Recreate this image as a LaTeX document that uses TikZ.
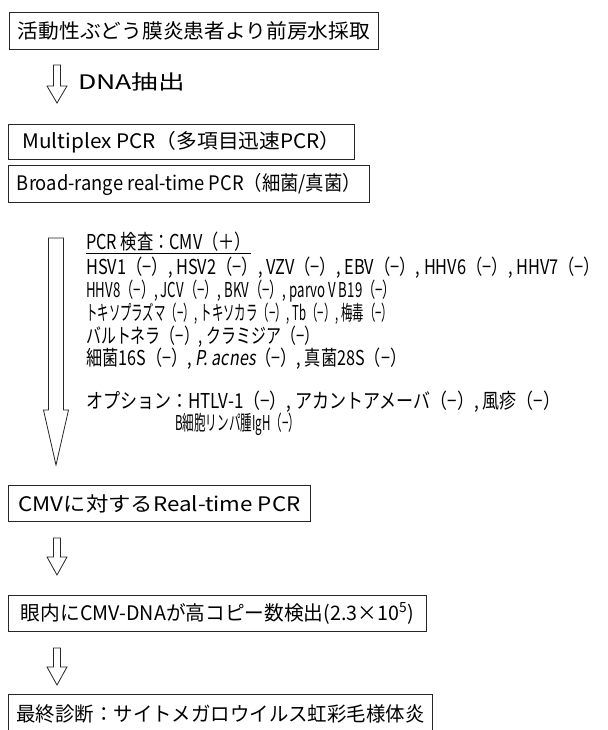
\documentclass[tikz,border=0pt]{standalone}
\usepackage{graphicx}
\usepackage{fontspec}
\setmainfont{Noto Sans CJK JP}
\newfontfamily\jpit{Noto Sans CJK JP}[FakeSlant=0.2]
\newcommand\fitw[2]{\resizebox{#1}{\height}{#2}}
\newcommand\hollowarrow[6]{%
  \draw[harrow] ({#1-#5},#2) -- ({#1+#5},#2) -- ({#1+#5},#3) -- ({#1+#6},#3)
    -- (#1,#4) -- ({#1-#6},#3) -- ({#1-#5},#3) -- cycle;}
\begin{document}
\begin{tikzpicture}[x=1pt,y=-1pt,
  box/.style={draw=black!85, line width=0.9pt, anchor=north west, inner sep=0pt,
    minimum height=37pt, font=\fontsize{20}{24}\selectfont},
  harrow/.style={draw=black!85, line width=0.8pt, fill=white, line join=miter},
  lst/.style={anchor=west, inner sep=0pt, font=\fontsize{20.5}{22}\selectfont},
  lbl/.style={anchor=west, inner sep=0pt, font=\fontsize{20}{24}\selectfont}]
\useasboundingbox (0,0) rectangle (607,730);
% boxes
\node[box, minimum width=369pt] (b1) at (9,12) {\fitw{352pt}{活動性ぶどう膜炎患者より前房水採取}};
\node[lbl] (dna) at (78,82) {\fitw{107pt}{DNA抽出}};
\node[box, minimum width=346pt, minimum height=35pt] (b2) at (8,124) {\fitw{318pt}{Multiplex PCR（多項目迅速PCR）}};
\node[box, minimum width=361pt] (b3) at (8,165) {\fitw{344pt}{Broad-range real-time PCR（細菌/真菌）}};
% list
\node[lst] (t0) at (86,243) {\fitw{165pt}{\underline{PCR 検査：CMV（＋）}}};
\node[lst] (t1) at (86,268) {\fitw{514pt}{HSV1（−）, HSV2（−）, VZV（−）, EBV（−）, HHV6（−）, HHV7（−）}};
\node[lst] (t2) at (86,291) {\fitw{310pt}{HHV8（−）, JCV（−）, BKV（−）, parvo V B19（−）}};
\node[lst] (t3) at (86,314) {\fitw{307pt}{トキソプラズマ（−）, トキソカラ（−）, Tb（−）, 梅毒（−）}};
\node[lst] (t4) at (86,337) {\fitw{233pt}{バルトネラ（−）, クラミジア（−）}};
\node[lst] (t5) at (86,359) {\fitw{320pt}{細菌16S（−）, {\jpit P. acnes}（−）, 真菌28S（−）}};
\node[lst] (t6) at (86,402) {\fitw{474pt}{オプション：HTLV-1（−）, アカントアメーバ（−）, 風疹（−）}};
\node[lst] (t7) at (175,424) {\fitw{125pt}{B細胞リンパ腫IgH（−）}};
\node[box, minimum width=302pt, minimum height=36pt] (b4) at (8,485) {\fitw{282pt}{CMVに対するReal-time PCR}};
\node[box, minimum width=418pt, minimum height=36pt] (b5) at (8,595) {\fitw{393pt}{眼内にCMV-DNAが高コピー数検出(2.3×10\textsuperscript{5})}};
\node[box, minimum width=424pt, minimum height=40pt] (b6) at (8,694) {\fitw{408pt}{最終診断：サイトメガロウイルス虹彩毛様体炎}};
% arrows
\hollowarrow{57}{65}{86}{103}{3.5}{10}
\hollowarrow{56}{238}{410}{465}{7.5}{12.5}
\hollowarrow{57}{538}{557}{575}{3.5}{10}
\hollowarrow{57}{648}{667}{685}{3.5}{10}
\end{tikzpicture}
\end{document}
